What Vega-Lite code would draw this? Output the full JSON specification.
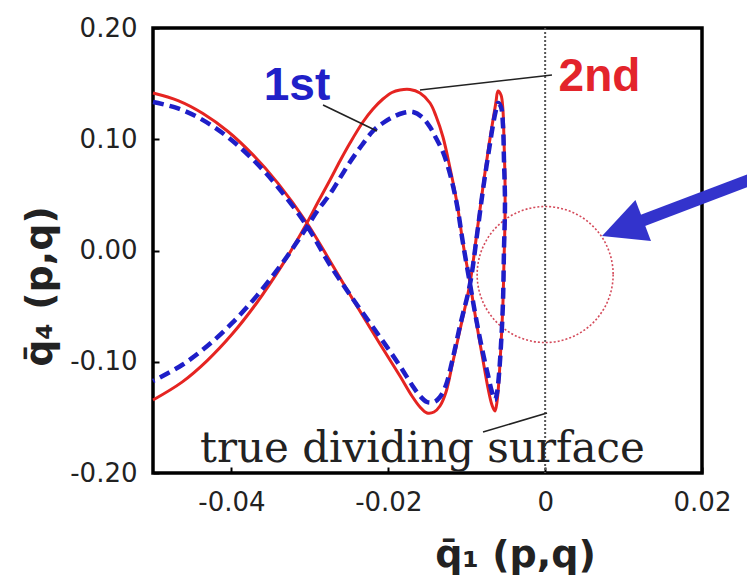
{
  "$schema": "https://vega.github.io/schema/vega-lite/v6.json",
  "width": 549,
  "height": 445,
  "autosize": {"type": "none"},
  "padding": {"left": 153, "top": 28, "right": 45, "bottom": 106},
  "background": "white",
  "config": {
    "view": {"stroke": "black", "strokeWidth": 3.5},
    "axis": {"grid": false, "domain": false}
  },
  "datasets": {
    "curves": [
      {"s": "2nd", "t": 1, "x": -0.05, "y": 0.14157},
      {"s": "2nd", "t": 2, "x": -0.04681, "y": 0.13474},
      {"s": "2nd", "t": 3, "x": -0.04363, "y": 0.12315},
      {"s": "2nd", "t": 4, "x": -0.04044, "y": 0.10697},
      {"s": "2nd", "t": 5, "x": -0.03725, "y": 0.08593},
      {"s": "2nd", "t": 6, "x": -0.03406, "y": 0.06031},
      {"s": "2nd", "t": 7, "x": -0.03037, "y": 0.02472},
      {"s": "2nd", "t": 8, "x": -0.02743, "y": -0.00944},
      {"s": "2nd", "t": 9, "x": -0.02424, "y": -0.04719},
      {"s": "2nd", "t": 10, "x": -0.02106, "y": -0.08405},
      {"s": "2nd", "t": 11, "x": -0.01851, "y": -0.11281},
      {"s": "2nd", "t": 12, "x": -0.01698, "y": -0.13079},
      {"s": "2nd", "t": 13, "x": -0.01596, "y": -0.14068},
      {"s": "2nd", "t": 14, "x": -0.01506, "y": -0.14607},
      {"s": "2nd", "t": 15, "x": -0.01417, "y": -0.14517},
      {"s": "2nd", "t": 16, "x": -0.01341, "y": -0.13978},
      {"s": "2nd", "t": 17, "x": -0.01264, "y": -0.12719},
      {"s": "2nd", "t": 18, "x": -0.01188, "y": -0.10382},
      {"s": "2nd", "t": 19, "x": -0.01086, "y": -0.07146},
      {"s": "2nd", "t": 20, "x": -0.00958, "y": -0.02921},
      {"s": "2nd", "t": 21, "x": -0.00869, "y": 0.01663},
      {"s": "2nd", "t": 22, "x": -0.00793, "y": 0.05708},
      {"s": "2nd", "t": 23, "x": -0.00716, "y": 0.09483},
      {"s": "2nd", "t": 24, "x": -0.00665, "y": 0.1173},
      {"s": "2nd", "t": 25, "x": -0.00627, "y": 0.13348},
      {"s": "2nd", "t": 26, "x": -0.00601, "y": 0.14337},
      {"s": "2nd", "t": 27, "x": -0.00563, "y": 0.13978},
      {"s": "2nd", "t": 28, "x": -0.00538, "y": 0.12629},
      {"s": "2nd", "t": 29, "x": -0.00525, "y": 0.09933},
      {"s": "2nd", "t": 30, "x": -0.00512, "y": 0.06337},
      {"s": "2nd", "t": 31, "x": -0.00512, "y": 0.02742},
      {"s": "2nd", "t": 32, "x": -0.00525, "y": -0.01034},
      {"s": "2nd", "t": 33, "x": -0.00538, "y": -0.04719},
      {"s": "2nd", "t": 34, "x": -0.00563, "y": -0.08494},
      {"s": "2nd", "t": 35, "x": -0.00589, "y": -0.11641},
      {"s": "2nd", "t": 36, "x": -0.00614, "y": -0.13618},
      {"s": "2nd", "t": 37, "x": -0.0064, "y": -0.14427},
      {"s": "2nd", "t": 38, "x": -0.00678, "y": -0.13888},
      {"s": "2nd", "t": 39, "x": -0.00729, "y": -0.1236},
      {"s": "2nd", "t": 40, "x": -0.00793, "y": -0.09843},
      {"s": "2nd", "t": 41, "x": -0.00882, "y": -0.06247},
      {"s": "2nd", "t": 42, "x": -0.00958, "y": -0.02921},
      {"s": "2nd", "t": 43, "x": -0.01048, "y": 0.00674},
      {"s": "2nd", "t": 44, "x": -0.01124, "y": 0.0427},
      {"s": "2nd", "t": 45, "x": -0.01213, "y": 0.07416},
      {"s": "2nd", "t": 46, "x": -0.01303, "y": 0.10202},
      {"s": "2nd", "t": 47, "x": -0.01392, "y": 0.1209},
      {"s": "2nd", "t": 48, "x": -0.01468, "y": 0.13258},
      {"s": "2nd", "t": 49, "x": -0.01596, "y": 0.14157},
      {"s": "2nd", "t": 50, "x": -0.01723, "y": 0.14472},
      {"s": "2nd", "t": 51, "x": -0.01851, "y": 0.14427},
      {"s": "2nd", "t": 52, "x": -0.01953, "y": 0.14202},
      {"s": "2nd", "t": 53, "x": -0.02068, "y": 0.13618},
      {"s": "2nd", "t": 54, "x": -0.02195, "y": 0.12719},
      {"s": "2nd", "t": 55, "x": -0.02323, "y": 0.1155},
      {"s": "2nd", "t": 56, "x": -0.02488, "y": 0.09663},
      {"s": "2nd", "t": 57, "x": -0.02616, "y": 0.08045},
      {"s": "2nd", "t": 58, "x": -0.02743, "y": 0.06337},
      {"s": "2nd", "t": 59, "x": -0.02896, "y": 0.04359},
      {"s": "2nd", "t": 60, "x": -0.03037, "y": 0.02472},
      {"s": "2nd", "t": 61, "x": -0.0319, "y": 0.00584},
      {"s": "2nd", "t": 62, "x": -0.03355, "y": -0.01339},
      {"s": "2nd", "t": 63, "x": -0.03674, "y": -0.04674},
      {"s": "2nd", "t": 64, "x": -0.03993, "y": -0.07533},
      {"s": "2nd", "t": 65, "x": -0.04312, "y": -0.09915},
      {"s": "2nd", "t": 66, "x": -0.0463, "y": -0.11829},
      {"s": "2nd", "t": 67, "x": -0.05, "y": -0.13438},
      {"s": "1st", "t": 1, "x": -0.05, "y": 0.13348},
      {"s": "1st", "t": 2, "x": -0.04681, "y": 0.12773},
      {"s": "1st", "t": 3, "x": -0.04363, "y": 0.11721},
      {"s": "1st", "t": 4, "x": -0.04044, "y": 0.10184},
      {"s": "1st", "t": 5, "x": -0.03725, "y": 0.08171},
      {"s": "1st", "t": 6, "x": -0.03406, "y": 0.0569},
      {"s": "1st", "t": 7, "x": -0.03037, "y": 0.02202},
      {"s": "1st", "t": 8, "x": -0.02743, "y": -0.01303},
      {"s": "1st", "t": 9, "x": -0.02424, "y": -0.04629},
      {"s": "1st", "t": 10, "x": -0.02106, "y": -0.07775},
      {"s": "1st", "t": 11, "x": -0.01851, "y": -0.10382},
      {"s": "1st", "t": 12, "x": -0.01698, "y": -0.1209},
      {"s": "1st", "t": 13, "x": -0.01596, "y": -0.13079},
      {"s": "1st", "t": 14, "x": -0.01506, "y": -0.13618},
      {"s": "1st", "t": 15, "x": -0.01417, "y": -0.13618},
      {"s": "1st", "t": 16, "x": -0.01341, "y": -0.13169},
      {"s": "1st", "t": 17, "x": -0.01264, "y": -0.1209},
      {"s": "1st", "t": 18, "x": -0.01188, "y": -0.10023},
      {"s": "1st", "t": 19, "x": -0.01086, "y": -0.06787},
      {"s": "1st", "t": 20, "x": -0.00958, "y": -0.03011},
      {"s": "1st", "t": 21, "x": -0.00869, "y": 0.01393},
      {"s": "1st", "t": 22, "x": -0.00793, "y": 0.05438},
      {"s": "1st", "t": 23, "x": -0.00716, "y": 0.09034},
      {"s": "1st", "t": 24, "x": -0.00665, "y": 0.11281},
      {"s": "1st", "t": 25, "x": -0.00627, "y": 0.12629},
      {"s": "1st", "t": 26, "x": -0.00601, "y": 0.13258},
      {"s": "1st", "t": 27, "x": -0.00563, "y": 0.12899},
      {"s": "1st", "t": 28, "x": -0.00538, "y": 0.11281},
      {"s": "1st", "t": 29, "x": -0.00525, "y": 0.08135},
      {"s": "1st", "t": 30, "x": -0.00512, "y": 0.0427},
      {"s": "1st", "t": 31, "x": -0.00525, "y": 0.00045},
      {"s": "1st", "t": 32, "x": -0.00538, "y": -0.04719},
      {"s": "1st", "t": 33, "x": -0.00563, "y": -0.08494},
      {"s": "1st", "t": 34, "x": -0.00589, "y": -0.11191},
      {"s": "1st", "t": 35, "x": -0.00614, "y": -0.12809},
      {"s": "1st", "t": 36, "x": -0.0064, "y": -0.13438},
      {"s": "1st", "t": 37, "x": -0.00678, "y": -0.12719},
      {"s": "1st", "t": 38, "x": -0.00729, "y": -0.11191},
      {"s": "1st", "t": 39, "x": -0.00793, "y": -0.09214},
      {"s": "1st", "t": 40, "x": -0.00882, "y": -0.06068},
      {"s": "1st", "t": 41, "x": -0.00958, "y": -0.03011},
      {"s": "1st", "t": 42, "x": -0.01048, "y": 0.00674},
      {"s": "1st", "t": 43, "x": -0.01124, "y": 0.0409},
      {"s": "1st", "t": 44, "x": -0.01213, "y": 0.06876},
      {"s": "1st", "t": 45, "x": -0.01303, "y": 0.08854},
      {"s": "1st", "t": 46, "x": -0.01392, "y": 0.10112},
      {"s": "1st", "t": 47, "x": -0.01468, "y": 0.11101},
      {"s": "1st", "t": 48, "x": -0.0157, "y": 0.12},
      {"s": "1st", "t": 49, "x": -0.01685, "y": 0.12449},
      {"s": "1st", "t": 50, "x": -0.01812, "y": 0.1236},
      {"s": "1st", "t": 51, "x": -0.0194, "y": 0.12},
      {"s": "1st", "t": 52, "x": -0.02068, "y": 0.11461},
      {"s": "1st", "t": 53, "x": -0.02195, "y": 0.10742},
      {"s": "1st", "t": 54, "x": -0.02335, "y": 0.09483},
      {"s": "1st", "t": 55, "x": -0.02488, "y": 0.07955},
      {"s": "1st", "t": 56, "x": -0.02616, "y": 0.06517},
      {"s": "1st", "t": 57, "x": -0.02743, "y": 0.05079},
      {"s": "1st", "t": 58, "x": -0.02896, "y": 0.0364},
      {"s": "1st", "t": 59, "x": -0.03037, "y": 0.02112},
      {"s": "1st", "t": 60, "x": -0.0319, "y": 0.00485},
      {"s": "1st", "t": 61, "x": -0.03355, "y": -0.01169},
      {"s": "1st", "t": 62, "x": -0.03674, "y": -0.04054},
      {"s": "1st", "t": 63, "x": -0.03993, "y": -0.06535},
      {"s": "1st", "t": 64, "x": -0.04312, "y": -0.08611},
      {"s": "1st", "t": 65, "x": -0.0463, "y": -0.10292},
      {"s": "1st", "t": 66, "x": -0.05, "y": -0.1173}
    ],
    "leaders": [
      {"name": "1st", "x": -0.02832, "y": 0.1308, "x2": -0.02144, "y2": 0.1074},
      {"name": "2nd", "x": -0.01596, "y": 0.1443, "x2": 0.00087, "y2": 0.1578},
      {"name": "surface", "x": -0.00792, "y": -0.1631, "x2": 0.00024, "y2": -0.1461}
    ],
    "labels": [
      {"label": "1st", "x": -0.03164, "y": 0.1353},
      {"label": "2nd", "x": 0.00693, "y": 0.1434},
      {"label": "true dividing surface", "x": -0.01564, "y": -0.1901}
    ],
    "divider": [{"x": 0}],
    "circle": [{"x": 0, "y": -0.0216}],
    "arrowShaft": [{"x": 0.01146, "y": 0.0243, "x2": 0.0274, "y2": 0.067}],
    "arrowHead": [{"x": 0.00988, "y": 0.02}]
  },
  "encoding": {
    "x": {
      "field": "x", "type": "quantitative",
      "scale": {"domain": [-0.05, 0.02], "nice": false, "zero": false},
      "axis": {
        "values": [-0.04, -0.02, 0, 0.02],
        "labelExpr": "toString(datum.value)",
        "labelFont": "DejaVu Sans", "labelFontSize": 26, "labelColor": "#222",
        "labelDx": 8, "labelPadding": 22, "labelFlush": false,
        "ticks": true, "tickSize": -6, "tickColor": "black", "tickWidth": 2,
        "title": "q̄₁ (p,q)", "titleFont": "DejaVu Sans", "titleFontSize": 38,
        "titleFontWeight": "bold", "titleColor": "#222",
        "titleX": 362, "titleY": 93, "titleBaseline": "alphabetic", "titleAnchor": "middle"
      }
    },
    "y": {
      "field": "y", "type": "quantitative",
      "scale": {"domain": [-0.2, 0.2], "nice": false, "zero": false},
      "axis": {
        "values": [-0.2, -0.1, 0, 0.1, 0.2],
        "labelExpr": "replace(format(datum.value, '.2f'), '−', '-')",
        "labelFont": "DejaVu Sans", "labelFontSize": 26, "labelColor": "#222",
        "labelPadding": 22, "labelFlush": false,
        "ticks": true, "tickSize": -6, "tickColor": "black", "tickWidth": 2,
        "title": "q̄₄ (p,q)", "titleFont": "DejaVu Sans", "titleFontSize": 38,
        "titleFontWeight": "bold", "titleColor": "#222",
        "titleX": -102, "titleY": 258, "titleBaseline": "alphabetic", "titleAnchor": "middle"
      }
    }
  },
  "layer": [
    {
      "data": {"name": "divider"},
      "mark": {"type": "rule", "color": "#555555", "strokeWidth": 2, "strokeDash": [2, 2]},
      "encoding": {"x": {"field": "x", "type": "quantitative"}, "y": null}
    },
    {
      "data": {"name": "circle"},
      "mark": {"type": "point", "shape": "circle", "size": 18496, "filled": false,
               "color": "#d44a5a", "strokeWidth": 1.6, "strokeDash": [2, 2], "opacity": 1}
    },
    {
      "data": {"name": "curves"},
      "transform": [{"filter": "datum.s === '2nd'"}],
      "mark": {"type": "line", "color": "#e52421", "strokeWidth": 3, "interpolate": "catmull-rom"},
      "encoding": {"order": {"field": "t", "type": "quantitative"}}
    },
    {
      "data": {"name": "curves"},
      "transform": [{"filter": "datum.s === '1st'"}],
      "mark": {"type": "line", "color": "#1e1ec8", "strokeWidth": 4.5, "strokeDash": [11, 6], "interpolate": "catmull-rom"},
      "encoding": {"order": {"field": "t", "type": "quantitative"}}
    },
    {
      "data": {"name": "leaders"},
      "mark": {"type": "rule", "color": "#222222", "strokeWidth": 1.6},
      "encoding": {
        "x2": {"field": "x2"},
        "y2": {"field": "y2"}
      }
    },
    {
      "data": {"name": "labels"},
      "transform": [{"filter": "datum.label === '1st'"}],
      "mark": {"type": "text", "font": "Liberation Sans", "fontWeight": "bold", "fontSize": 46,
               "color": "#2020c8", "align": "center", "baseline": "alphabetic"},
      "encoding": {"text": {"field": "label"}}
    },
    {
      "data": {"name": "labels"},
      "transform": [{"filter": "datum.label === '2nd'"}],
      "mark": {"type": "text", "font": "Liberation Sans", "fontWeight": "bold", "fontSize": 46,
               "color": "#e3242b", "align": "center", "baseline": "alphabetic"},
      "encoding": {"text": {"field": "label"}}
    },
    {
      "data": {"name": "labels"},
      "transform": [{"filter": "datum.label === 'true dividing surface'"}],
      "mark": {"type": "text", "font": "DejaVu Serif", "fontSize": 42,
               "color": "#222222", "align": "center", "baseline": "alphabetic"},
      "encoding": {"text": {"field": "label"}}
    },
    {
      "data": {"name": "arrowShaft"},
      "mark": {"type": "rule", "color": "#3333cc", "strokeWidth": 12, "strokeCap": "butt", "clip": false},
      "encoding": {
        "x2": {"field": "x2"},
        "y2": {"field": "y2"}
      }
    },
    {
      "data": {"name": "arrowHead"},
      "mark": {"type": "point", "shape": "M0,-1L1,1L-1,1Z", "size": 1936, "angle": 249.3,
               "filled": true, "color": "#3333cc", "opacity": 1, "strokeWidth": 0, "clip": false}
    }
  ]
}
